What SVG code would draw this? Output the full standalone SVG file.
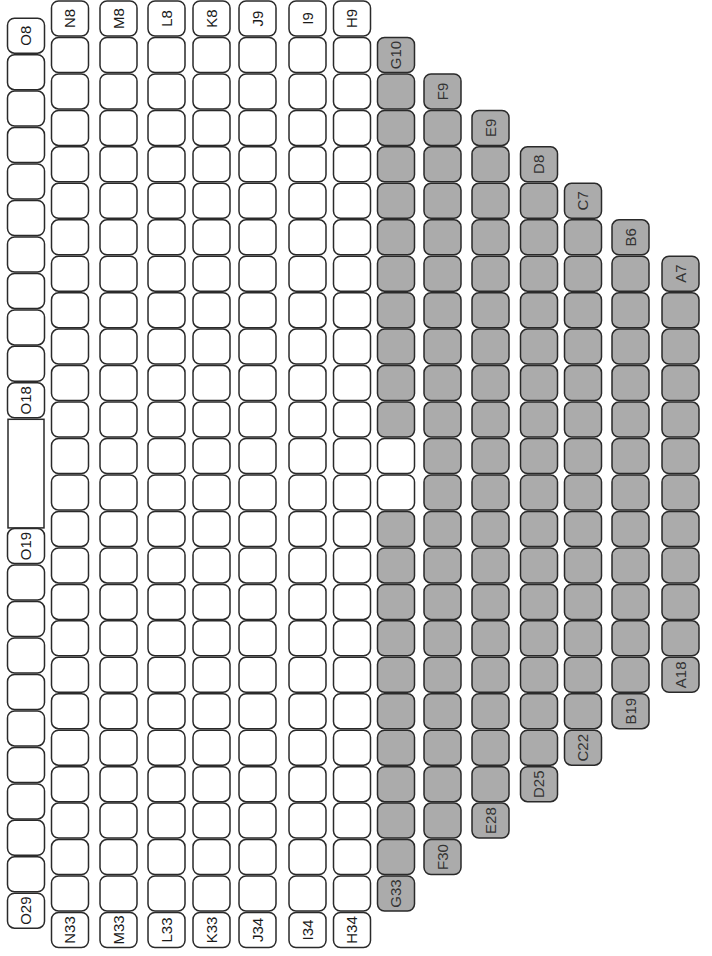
<svg xmlns="http://www.w3.org/2000/svg" xmlns:xlink="http://www.w3.org/1999/xlink" width="712" height="956" viewBox="0 0 712 956">
<style>
.w{fill:#fff;stroke:#2a2a2a;stroke-width:1.5}
.g{fill:#ababab;stroke:#2a2a2a;stroke-width:1.5}
text{font-family:"Liberation Sans",Arial,sans-serif;font-size:15px;text-anchor:middle;fill:#1a1a1a}
.gl text{fill:#333}
</style>
<defs>
<rect id="s" width="37" height="35" rx="7"/>
</defs>
<rect width="712" height="956" fill="#fff"/>

<g id="col-O" transform="translate(7.5 0)">
<g id="O8"><use href="#s" class="w" y="18.2"/><text dy=".35em" transform="translate(18.5 35.7) rotate(-90)">O8</text></g>
<use id="O9" href="#s" class="w" y="54.7"/>
<use id="O10" href="#s" class="w" y="91.1"/>
<use id="O11" href="#s" class="w" y="127.6"/>
<use id="O12" href="#s" class="w" y="164"/>
<use id="O13" href="#s" class="w" y="200.5"/>
<use id="O14" href="#s" class="w" y="237"/>
<use id="O15" href="#s" class="w" y="273.4"/>
<use id="O16" href="#s" class="w" y="309.9"/>
<use id="O17" href="#s" class="w" y="346.3"/>
<g id="O18"><use href="#s" class="w" y="382.8"/><text dy=".35em" transform="translate(18.5 400.3) rotate(-90)">O18</text></g>
<rect id="O-gap" class="w" x="0.5" y="419.3" width="36" height="108.6"/>
<g id="O19"><use href="#s" class="w" y="528.6"/><text dy=".35em" transform="translate(18.5 546.1) rotate(-90)">O19</text></g>
<use id="O20" href="#s" class="w" y="565.1"/>
<use id="O21" href="#s" class="w" y="601.6"/>
<use id="O22" href="#s" class="w" y="638"/>
<use id="O23" href="#s" class="w" y="674.5"/>
<use id="O24" href="#s" class="w" y="710.9"/>
<use id="O25" href="#s" class="w" y="747.4"/>
<use id="O26" href="#s" class="w" y="783.9"/>
<use id="O27" href="#s" class="w" y="820.3"/>
<use id="O28" href="#s" class="w" y="856.8"/>
<g id="O29"><use href="#s" class="w" y="893.2"/><text dy=".35em" transform="translate(18.5 910.7) rotate(-90)">O29</text></g>
</g>

<g id="col-N" transform="translate(51.5 0)">
<g id="N8"><use href="#s" class="w" y="1"/><text dy=".35em" transform="translate(18.5 18.5) rotate(-90)">N8</text></g>
<use id="N9" href="#s" class="w" y="37.5"/><use id="N10" href="#s" class="w" y="73.9"/><use id="N11" href="#s" class="w" y="110.4"/><use id="N12" href="#s" class="w" y="146.8"/><use id="N13" href="#s" class="w" y="183.3"/><use id="N14" href="#s" class="w" y="219.8"/><use id="N15" href="#s" class="w" y="256.2"/><use id="N16" href="#s" class="w" y="292.7"/><use id="N17" href="#s" class="w" y="329.1"/><use id="N18" href="#s" class="w" y="365.6"/><use id="N19" href="#s" class="w" y="402.1"/><use id="N20" href="#s" class="w" y="438.5"/><use id="N21" href="#s" class="w" y="475"/><use id="N22" href="#s" class="w" y="511.4"/><use id="N23" href="#s" class="w" y="547.9"/><use id="N24" href="#s" class="w" y="584.4"/><use id="N25" href="#s" class="w" y="620.8"/><use id="N26" href="#s" class="w" y="657.3"/><use id="N27" href="#s" class="w" y="693.7"/><use id="N28" href="#s" class="w" y="730.2"/><use id="N29" href="#s" class="w" y="766.7"/><use id="N30" href="#s" class="w" y="803.1"/><use id="N31" href="#s" class="w" y="839.6"/><use id="N32" href="#s" class="w" y="876"/>
<g id="N33"><use href="#s" class="w" y="912.5"/><text dy=".35em" transform="translate(18.5 930) rotate(-90)">N33</text></g>
</g>

<g id="col-M" transform="translate(100 0)">
<g id="M8"><use href="#s" class="w" y="1"/><text dy=".35em" transform="translate(18.5 18.5) rotate(-90)">M8</text></g>
<use id="M9" href="#s" class="w" y="37.5"/><use id="M10" href="#s" class="w" y="73.9"/><use id="M11" href="#s" class="w" y="110.4"/><use id="M12" href="#s" class="w" y="146.8"/><use id="M13" href="#s" class="w" y="183.3"/><use id="M14" href="#s" class="w" y="219.8"/><use id="M15" href="#s" class="w" y="256.2"/><use id="M16" href="#s" class="w" y="292.7"/><use id="M17" href="#s" class="w" y="329.1"/><use id="M18" href="#s" class="w" y="365.6"/><use id="M19" href="#s" class="w" y="402.1"/><use id="M20" href="#s" class="w" y="438.5"/><use id="M21" href="#s" class="w" y="475"/><use id="M22" href="#s" class="w" y="511.4"/><use id="M23" href="#s" class="w" y="547.9"/><use id="M24" href="#s" class="w" y="584.4"/><use id="M25" href="#s" class="w" y="620.8"/><use id="M26" href="#s" class="w" y="657.3"/><use id="M27" href="#s" class="w" y="693.7"/><use id="M28" href="#s" class="w" y="730.2"/><use id="M29" href="#s" class="w" y="766.7"/><use id="M30" href="#s" class="w" y="803.1"/><use id="M31" href="#s" class="w" y="839.6"/><use id="M32" href="#s" class="w" y="876"/>
<g id="M33"><use href="#s" class="w" y="912.5"/><text dy=".35em" transform="translate(18.5 930) rotate(-90)">M33</text></g>
</g>

<g id="col-L" transform="translate(148 0)">
<g id="L8"><use href="#s" class="w" y="1"/><text dy=".35em" transform="translate(18.5 18.5) rotate(-90)">L8</text></g>
<use id="L9" href="#s" class="w" y="37.5"/><use id="L10" href="#s" class="w" y="73.9"/><use id="L11" href="#s" class="w" y="110.4"/><use id="L12" href="#s" class="w" y="146.8"/><use id="L13" href="#s" class="w" y="183.3"/><use id="L14" href="#s" class="w" y="219.8"/><use id="L15" href="#s" class="w" y="256.2"/><use id="L16" href="#s" class="w" y="292.7"/><use id="L17" href="#s" class="w" y="329.1"/><use id="L18" href="#s" class="w" y="365.6"/><use id="L19" href="#s" class="w" y="402.1"/><use id="L20" href="#s" class="w" y="438.5"/><use id="L21" href="#s" class="w" y="475"/><use id="L22" href="#s" class="w" y="511.4"/><use id="L23" href="#s" class="w" y="547.9"/><use id="L24" href="#s" class="w" y="584.4"/><use id="L25" href="#s" class="w" y="620.8"/><use id="L26" href="#s" class="w" y="657.3"/><use id="L27" href="#s" class="w" y="693.7"/><use id="L28" href="#s" class="w" y="730.2"/><use id="L29" href="#s" class="w" y="766.7"/><use id="L30" href="#s" class="w" y="803.1"/><use id="L31" href="#s" class="w" y="839.6"/><use id="L32" href="#s" class="w" y="876"/>
<g id="L33"><use href="#s" class="w" y="912.5"/><text dy=".35em" transform="translate(18.5 930) rotate(-90)">L33</text></g>
</g>

<g id="col-K" transform="translate(193 0)">
<g id="K8"><use href="#s" class="w" y="1"/><text dy=".35em" transform="translate(18.5 18.5) rotate(-90)">K8</text></g>
<use id="K9" href="#s" class="w" y="37.5"/><use id="K10" href="#s" class="w" y="73.9"/><use id="K11" href="#s" class="w" y="110.4"/><use id="K12" href="#s" class="w" y="146.8"/><use id="K13" href="#s" class="w" y="183.3"/><use id="K14" href="#s" class="w" y="219.8"/><use id="K15" href="#s" class="w" y="256.2"/><use id="K16" href="#s" class="w" y="292.7"/><use id="K17" href="#s" class="w" y="329.1"/><use id="K18" href="#s" class="w" y="365.6"/><use id="K19" href="#s" class="w" y="402.1"/><use id="K20" href="#s" class="w" y="438.5"/><use id="K21" href="#s" class="w" y="475"/><use id="K22" href="#s" class="w" y="511.4"/><use id="K23" href="#s" class="w" y="547.9"/><use id="K24" href="#s" class="w" y="584.4"/><use id="K25" href="#s" class="w" y="620.8"/><use id="K26" href="#s" class="w" y="657.3"/><use id="K27" href="#s" class="w" y="693.7"/><use id="K28" href="#s" class="w" y="730.2"/><use id="K29" href="#s" class="w" y="766.7"/><use id="K30" href="#s" class="w" y="803.1"/><use id="K31" href="#s" class="w" y="839.6"/><use id="K32" href="#s" class="w" y="876"/>
<g id="K33"><use href="#s" class="w" y="912.5"/><text dy=".35em" transform="translate(18.5 930) rotate(-90)">K33</text></g>
</g>

<g id="col-J" transform="translate(239 0)">
<g id="J9"><use href="#s" class="w" y="1"/><text dy=".35em" transform="translate(18.5 18.5) rotate(-90)">J9</text></g>
<use id="J10" href="#s" class="w" y="37.5"/><use id="J11" href="#s" class="w" y="73.9"/><use id="J12" href="#s" class="w" y="110.4"/><use id="J13" href="#s" class="w" y="146.8"/><use id="J14" href="#s" class="w" y="183.3"/><use id="J15" href="#s" class="w" y="219.8"/><use id="J16" href="#s" class="w" y="256.2"/><use id="J17" href="#s" class="w" y="292.7"/><use id="J18" href="#s" class="w" y="329.1"/><use id="J19" href="#s" class="w" y="365.6"/><use id="J20" href="#s" class="w" y="402.1"/><use id="J21" href="#s" class="w" y="438.5"/><use id="J22" href="#s" class="w" y="475"/><use id="J23" href="#s" class="w" y="511.4"/><use id="J24" href="#s" class="w" y="547.9"/><use id="J25" href="#s" class="w" y="584.4"/><use id="J26" href="#s" class="w" y="620.8"/><use id="J27" href="#s" class="w" y="657.3"/><use id="J28" href="#s" class="w" y="693.7"/><use id="J29" href="#s" class="w" y="730.2"/><use id="J30" href="#s" class="w" y="766.7"/><use id="J31" href="#s" class="w" y="803.1"/><use id="J32" href="#s" class="w" y="839.6"/><use id="J33" href="#s" class="w" y="876"/>
<g id="J34"><use href="#s" class="w" y="912.5"/><text dy=".35em" transform="translate(18.5 930) rotate(-90)">J34</text></g>
</g>

<g id="col-I" transform="translate(289 0)">
<g id="I9"><use href="#s" class="w" y="1"/><text dy=".35em" transform="translate(18.5 18.5) rotate(-90)">I9</text></g>
<use id="I10" href="#s" class="w" y="37.5"/><use id="I11" href="#s" class="w" y="73.9"/><use id="I12" href="#s" class="w" y="110.4"/><use id="I13" href="#s" class="w" y="146.8"/><use id="I14" href="#s" class="w" y="183.3"/><use id="I15" href="#s" class="w" y="219.8"/><use id="I16" href="#s" class="w" y="256.2"/><use id="I17" href="#s" class="w" y="292.7"/><use id="I18" href="#s" class="w" y="329.1"/><use id="I19" href="#s" class="w" y="365.6"/><use id="I20" href="#s" class="w" y="402.1"/><use id="I21" href="#s" class="w" y="438.5"/><use id="I22" href="#s" class="w" y="475"/><use id="I23" href="#s" class="w" y="511.4"/><use id="I24" href="#s" class="w" y="547.9"/><use id="I25" href="#s" class="w" y="584.4"/><use id="I26" href="#s" class="w" y="620.8"/><use id="I27" href="#s" class="w" y="657.3"/><use id="I28" href="#s" class="w" y="693.7"/><use id="I29" href="#s" class="w" y="730.2"/><use id="I30" href="#s" class="w" y="766.7"/><use id="I31" href="#s" class="w" y="803.1"/><use id="I32" href="#s" class="w" y="839.6"/><use id="I33" href="#s" class="w" y="876"/>
<g id="I34"><use href="#s" class="w" y="912.5"/><text dy=".35em" transform="translate(18.5 930) rotate(-90)">I34</text></g>
</g>

<g id="col-H" transform="translate(333.5 0)">
<g id="H9"><use href="#s" class="w" y="1"/><text dy=".35em" transform="translate(18.5 18.5) rotate(-90)">H9</text></g>
<use id="H10" href="#s" class="w" y="37.5"/><use id="H11" href="#s" class="w" y="73.9"/><use id="H12" href="#s" class="w" y="110.4"/><use id="H13" href="#s" class="w" y="146.8"/><use id="H14" href="#s" class="w" y="183.3"/><use id="H15" href="#s" class="w" y="219.8"/><use id="H16" href="#s" class="w" y="256.2"/><use id="H17" href="#s" class="w" y="292.7"/><use id="H18" href="#s" class="w" y="329.1"/><use id="H19" href="#s" class="w" y="365.6"/><use id="H20" href="#s" class="w" y="402.1"/><use id="H21" href="#s" class="w" y="438.5"/><use id="H22" href="#s" class="w" y="475"/><use id="H23" href="#s" class="w" y="511.4"/><use id="H24" href="#s" class="w" y="547.9"/><use id="H25" href="#s" class="w" y="584.4"/><use id="H26" href="#s" class="w" y="620.8"/><use id="H27" href="#s" class="w" y="657.3"/><use id="H28" href="#s" class="w" y="693.7"/><use id="H29" href="#s" class="w" y="730.2"/><use id="H30" href="#s" class="w" y="766.7"/><use id="H31" href="#s" class="w" y="803.1"/><use id="H32" href="#s" class="w" y="839.6"/><use id="H33" href="#s" class="w" y="876"/>
<g id="H34"><use href="#s" class="w" y="912.5"/><text dy=".35em" transform="translate(18.5 930) rotate(-90)">H34</text></g>
</g>

<g id="col-G" class="gl" transform="translate(377.5 0)">
<g id="G10"><use href="#s" class="g" y="37.5"/><text dy=".35em" transform="translate(18.5 55) rotate(-90)">G10</text></g>
<use id="G11" href="#s" class="g" y="73.9"/><use id="G12" href="#s" class="g" y="110.4"/><use id="G13" href="#s" class="g" y="146.8"/><use id="G14" href="#s" class="g" y="183.3"/><use id="G15" href="#s" class="g" y="219.8"/><use id="G16" href="#s" class="g" y="256.2"/><use id="G17" href="#s" class="g" y="292.7"/><use id="G18" href="#s" class="g" y="329.1"/><use id="G19" href="#s" class="g" y="365.6"/><use id="G20" href="#s" class="g" y="402.1"/><use id="G21" href="#s" class="w" y="438.5"/><use id="G22" href="#s" class="w" y="475"/><use id="G23" href="#s" class="g" y="511.4"/><use id="G24" href="#s" class="g" y="547.9"/><use id="G25" href="#s" class="g" y="584.4"/><use id="G26" href="#s" class="g" y="620.8"/><use id="G27" href="#s" class="g" y="657.3"/><use id="G28" href="#s" class="g" y="693.7"/><use id="G29" href="#s" class="g" y="730.2"/><use id="G30" href="#s" class="g" y="766.7"/><use id="G31" href="#s" class="g" y="803.1"/><use id="G32" href="#s" class="g" y="839.6"/>
<g id="G33"><use href="#s" class="g" y="876"/><text dy=".35em" transform="translate(18.5 893.5) rotate(-90)">G33</text></g>
</g>

<g id="col-F" class="gl" transform="translate(424 0)">
<g id="F9"><use href="#s" class="g" y="73.9"/><text dy=".35em" transform="translate(18.5 91.4) rotate(-90)">F9</text></g>
<use id="F10" href="#s" class="g" y="110.4"/><use id="F11" href="#s" class="g" y="146.8"/><use id="F12" href="#s" class="g" y="183.3"/><use id="F13" href="#s" class="g" y="219.8"/><use id="F14" href="#s" class="g" y="256.2"/><use id="F15" href="#s" class="g" y="292.7"/><use id="F16" href="#s" class="g" y="329.1"/><use id="F17" href="#s" class="g" y="365.6"/><use id="F18" href="#s" class="g" y="402.1"/><use id="F19" href="#s" class="g" y="438.5"/><use id="F20" href="#s" class="g" y="475"/><use id="F21" href="#s" class="g" y="511.4"/><use id="F22" href="#s" class="g" y="547.9"/><use id="F23" href="#s" class="g" y="584.4"/><use id="F24" href="#s" class="g" y="620.8"/><use id="F25" href="#s" class="g" y="657.3"/><use id="F26" href="#s" class="g" y="693.7"/><use id="F27" href="#s" class="g" y="730.2"/><use id="F28" href="#s" class="g" y="766.7"/><use id="F29" href="#s" class="g" y="803.1"/>
<g id="F30"><use href="#s" class="g" y="839.6"/><text dy=".35em" transform="translate(18.5 857.1) rotate(-90)">F30</text></g>
</g>

<g id="col-E" class="gl" transform="translate(472 0)">
<g id="E9"><use href="#s" class="g" y="110.4"/><text dy=".35em" transform="translate(18.5 127.9) rotate(-90)">E9</text></g>
<use id="E10" href="#s" class="g" y="146.8"/><use id="E11" href="#s" class="g" y="183.3"/><use id="E12" href="#s" class="g" y="219.8"/><use id="E13" href="#s" class="g" y="256.2"/><use id="E14" href="#s" class="g" y="292.7"/><use id="E15" href="#s" class="g" y="329.1"/><use id="E16" href="#s" class="g" y="365.6"/><use id="E17" href="#s" class="g" y="402.1"/><use id="E18" href="#s" class="g" y="438.5"/><use id="E19" href="#s" class="g" y="475"/><use id="E20" href="#s" class="g" y="511.4"/><use id="E21" href="#s" class="g" y="547.9"/><use id="E22" href="#s" class="g" y="584.4"/><use id="E23" href="#s" class="g" y="620.8"/><use id="E24" href="#s" class="g" y="657.3"/><use id="E25" href="#s" class="g" y="693.7"/><use id="E26" href="#s" class="g" y="730.2"/><use id="E27" href="#s" class="g" y="766.7"/>
<g id="E28"><use href="#s" class="g" y="803.1"/><text dy=".35em" transform="translate(18.5 820.6) rotate(-90)">E28</text></g>
</g>

<g id="col-D" class="gl" transform="translate(520.5 0)">
<g id="D8"><use href="#s" class="g" y="146.8"/><text dy=".35em" transform="translate(18.5 164.3) rotate(-90)">D8</text></g>
<use id="D9" href="#s" class="g" y="183.3"/><use id="D10" href="#s" class="g" y="219.8"/><use id="D11" href="#s" class="g" y="256.2"/><use id="D12" href="#s" class="g" y="292.7"/><use id="D13" href="#s" class="g" y="329.1"/><use id="D14" href="#s" class="g" y="365.6"/><use id="D15" href="#s" class="g" y="402.1"/><use id="D16" href="#s" class="g" y="438.5"/><use id="D17" href="#s" class="g" y="475"/><use id="D18" href="#s" class="g" y="511.4"/><use id="D19" href="#s" class="g" y="547.9"/><use id="D20" href="#s" class="g" y="584.4"/><use id="D21" href="#s" class="g" y="620.8"/><use id="D22" href="#s" class="g" y="657.3"/><use id="D23" href="#s" class="g" y="693.7"/><use id="D24" href="#s" class="g" y="730.2"/>
<g id="D25"><use href="#s" class="g" y="766.7"/><text dy=".35em" transform="translate(18.5 784.2) rotate(-90)">D25</text></g>
</g>

<g id="col-C" class="gl" transform="translate(564.5 0)">
<g id="C7"><use href="#s" class="g" y="183.3"/><text dy=".35em" transform="translate(18.5 200.8) rotate(-90)">C7</text></g>
<use id="C8" href="#s" class="g" y="219.8"/><use id="C9" href="#s" class="g" y="256.2"/><use id="C10" href="#s" class="g" y="292.7"/><use id="C11" href="#s" class="g" y="329.1"/><use id="C12" href="#s" class="g" y="365.6"/><use id="C13" href="#s" class="g" y="402.1"/><use id="C14" href="#s" class="g" y="438.5"/><use id="C15" href="#s" class="g" y="475"/><use id="C16" href="#s" class="g" y="511.4"/><use id="C17" href="#s" class="g" y="547.9"/><use id="C18" href="#s" class="g" y="584.4"/><use id="C19" href="#s" class="g" y="620.8"/><use id="C20" href="#s" class="g" y="657.3"/><use id="C21" href="#s" class="g" y="693.7"/>
<g id="C22"><use href="#s" class="g" y="730.2"/><text dy=".35em" transform="translate(18.5 747.7) rotate(-90)">C22</text></g>
</g>

<g id="col-B" class="gl" transform="translate(612 0)">
<g id="B6"><use href="#s" class="g" y="219.8"/><text dy=".35em" transform="translate(18.5 237.3) rotate(-90)">B6</text></g>
<use id="B7" href="#s" class="g" y="256.2"/><use id="B8" href="#s" class="g" y="292.7"/><use id="B9" href="#s" class="g" y="329.1"/><use id="B10" href="#s" class="g" y="365.6"/><use id="B11" href="#s" class="g" y="402.1"/><use id="B12" href="#s" class="g" y="438.5"/><use id="B13" href="#s" class="g" y="475"/><use id="B14" href="#s" class="g" y="511.4"/><use id="B15" href="#s" class="g" y="547.9"/><use id="B16" href="#s" class="g" y="584.4"/><use id="B17" href="#s" class="g" y="620.8"/><use id="B18" href="#s" class="g" y="657.3"/>
<g id="B19"><use href="#s" class="g" y="693.7"/><text dy=".35em" transform="translate(18.5 711.2) rotate(-90)">B19</text></g>
</g>

<g id="col-A" class="gl" transform="translate(662 0)">
<g id="A7"><use href="#s" class="g" y="256.2"/><text dy=".35em" transform="translate(18.5 273.7) rotate(-90)">A7</text></g>
<use id="A8" href="#s" class="g" y="292.7"/><use id="A9" href="#s" class="g" y="329.1"/><use id="A10" href="#s" class="g" y="365.6"/><use id="A11" href="#s" class="g" y="402.1"/><use id="A12" href="#s" class="g" y="438.5"/><use id="A13" href="#s" class="g" y="475"/><use id="A14" href="#s" class="g" y="511.4"/><use id="A15" href="#s" class="g" y="547.9"/><use id="A16" href="#s" class="g" y="584.4"/><use id="A17" href="#s" class="g" y="620.8"/>
<g id="A18"><use href="#s" class="g" y="657.3"/><text dy=".35em" transform="translate(18.5 674.8) rotate(-90)">A18</text></g>
</g>
</svg>
